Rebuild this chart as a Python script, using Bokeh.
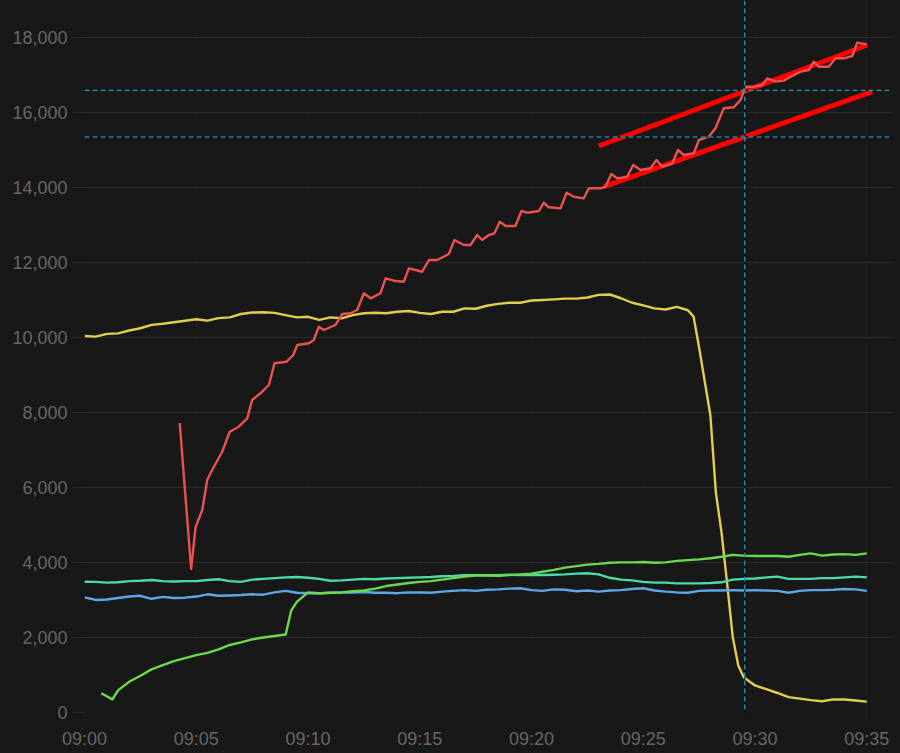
import numpy as np
import pandas as pd
from bokeh.plotting import figure
from bokeh.models import Range1d, FixedTicker, NumeralTickFormatter, DatetimeTickFormatter, Span
from bokeh.embed import file_html
from bokeh.resources import INLINE

# ---- data (minutes after 09:00) ----
time_min = [i * 0.5 for i in range(71)]  # 30 s samples 09:00 .. 09:35

yellow_t = ([i * 0.5 for i in range(55)]                       # 09:00 .. 09:27
            + [27.25, 27.5, 27.75, 28.0, 28.25, 28.5, 28.75, 29.0, 29.25, 29.5]
            + [30 + i * 0.5 for i in range(11)])               # 09:30 .. 09:35
yellow = [10034, 10016, 10090, 10105, 10180, 10240, 10330, 10360, 10400, 10440,
          10480, 10445, 10510, 10530, 10620, 10660, 10665, 10650, 10590, 10530,
          10545, 10465, 10530, 10505, 10590, 10640, 10655, 10640, 10680, 10700,
          10650, 10620, 10680, 10680, 10770, 10760, 10840, 10890, 10921, 10921,
          10980, 10993, 11010, 11030, 11030, 11060, 11130, 11140, 11040, 10920,
          10850, 10770, 10740, 10810, 10720,
          10550, 9720, 8820, 7930, 5850, 4800, 3450, 2020, 1250, 930,
          720, 620, 520, 410, 370, 330, 300, 350, 345, 320,
          290]

blue = [3070, 3000, 3010, 3050, 3090, 3110, 3030, 3080, 3050, 3060,
        3090, 3150, 3110, 3120, 3130, 3150, 3140, 3200, 3240, 3190,
        3180, 3170, 3190, 3200, 3200, 3210, 3190, 3190, 3180, 3200,
        3200, 3190, 3220, 3240, 3260, 3240, 3270, 3280, 3300, 3310,
        3260, 3240, 3280, 3270, 3230, 3250, 3220, 3250, 3260, 3290,
        3310, 3250, 3220, 3200, 3190, 3240, 3250, 3250, 3260, 3250,
        3260, 3250, 3240, 3190, 3240, 3260, 3260, 3270, 3290, 3280,
        3240]

teal = [3486, 3480, 3460, 3470, 3500, 3510, 3530, 3500, 3490, 3500,
        3500, 3530, 3550, 3500, 3480, 3540, 3560, 3580, 3600, 3610,
        3590, 3560, 3510, 3520, 3540, 3560, 3550, 3570, 3580, 3590,
        3600, 3610, 3630, 3640, 3660, 3660, 3660, 3660, 3670, 3660,
        3660, 3665, 3670, 3680, 3700, 3710, 3680, 3590, 3540, 3520,
        3480, 3460, 3460, 3440, 3440, 3440, 3450, 3470, 3540, 3560,
        3570, 3600, 3620, 3560, 3560, 3560, 3580, 3580, 3600, 3620,
        3600]

green_t = [0.75, 1.25] + [1.5 + i * 0.5 for i in range(16)] + [9.25] + [9.5 + i * 0.5 for i in range(52)]
green = [512, 350,
         590, 820, 980, 1150, 1260, 1370, 1450, 1530, 1590, 1680, 1800, 1870, 1950, 2000, 2040, 2080,
         2720,
         2950, 3200, 3180, 3190, 3200, 3230, 3250, 3300, 3370, 3410,
         3450, 3480, 3500, 3540, 3580, 3620, 3650, 3650, 3640, 3660,
         3680, 3700, 3750, 3800, 3860, 3900, 3940, 3960, 3990, 4000,
         4000, 4010, 3990, 4000, 4040, 4060, 4080, 4110, 4150, 4200,
         4180, 4170, 4170, 4170, 4150, 4200, 4240, 4180, 4210, 4220,
         4200, 4240]

red_t = [4.26, 4.77, 4.97, 5.27, 5.49, 5.71, 6.16, 6.50, 6.90, 7.28,
         7.50, 7.87, 8.25, 8.50, 9.04, 9.34, 9.52, 10.04, 10.26, 10.48,
         10.71, 11.23, 11.53, 11.90, 12.20, 12.50, 12.80, 13.24, 13.47, 13.84,
         14.29, 14.51, 14.81, 15.11, 15.41, 15.78, 16.30, 16.55, 16.97, 17.27,
         17.57, 17.79, 18.09, 18.34, 18.58, 18.84, 19.28, 19.55, 19.81, 20.33,
         20.55, 20.77, 21.30, 21.57, 21.89, 22.34, 22.56, 23.09, 23.31, 23.57,
         23.83, 24.28, 24.55, 24.88, 25.32, 25.59, 25.85, 26.30, 26.55, 26.81,
         27.26, 27.49, 27.93, 28.23, 28.60, 29.05, 29.35, 29.57, 29.95, 30.32,
         30.55, 30.92, 31.29, 31.59, 32.04, 32.41, 32.63, 32.85, 33.30, 33.60,
         33.97, 34.35, 34.57, 34.87, 35.00]
red = [7715, 3824, 4944, 5397, 6196, 6463, 6950, 7483, 7617, 7840,
       8328, 8507, 8728, 9306, 9349, 9527, 9794, 9839, 9927, 10282,
       10194, 10327, 10620, 10639, 10727, 11172, 11038, 11172, 11572, 11508,
       11481, 11838, 11793, 11747, 12059, 12059, 12219, 12592, 12459, 12459,
       12726, 12592, 12726, 12771, 13080, 12965, 12965, 13365, 13320, 13365,
       13587, 13464, 13436, 13853, 13746, 13703, 13970, 13970, 14013, 14351,
       14236, 14279, 14591, 14458, 14503, 14724, 14546, 14636, 14991, 14857,
       14903, 15257, 15345, 15569, 16102, 16129, 16324, 16678, 16678, 16723,
       16901, 16812, 16839, 16945, 17078, 17122, 17345, 17211, 17211, 17434,
       17434, 17496, 17851, 17816, 17816]

trend_upper_t = [23.01, 35.02]
trend_upper_v = [15097, 17790]
trend_lower_t = [23.24, 35.24]
trend_lower_v = [14013, 16545]

cross_levels = [16582, 15337]
cross_time = 29.54

x_tick_minutes = [0, 5, 10, 15, 20, 25, 30, 35]
y_ticks = [0, 2000, 4000, 6000, 8000, 10000, 12000, 14000, 16000, 18000]

# ---- helpers ----
BASE_MS = pd.Timestamp("2024-01-01 09:00").value / 1e6


def to_ms(minutes):
    return [BASE_MS + m * 60000.0 for m in minutes]


BG = "#181818"
GRID = "#2a2a2a"
LABEL = "#666666"

p = figure(width=900, height=753, x_axis_type="datetime",
           output_backend="svg", toolbar_location=None,
           x_range=Range1d(BASE_MS, BASE_MS + 36.15 * 60000),
           y_range=Range1d(0, 18975),
           min_border_left=84, min_border_right=8, min_border_top=0, min_border_bottom=41)
p.background_fill_color = BG
p.border_fill_color = BG
p.outline_line_color = None

p.xgrid.grid_line_color = "#1d1d1d"
p.ygrid.grid_line_color = GRID

p.xaxis.ticker = FixedTicker(ticks=to_ms(x_tick_minutes))
p.xaxis.formatter = DatetimeTickFormatter(
    seconds="%H:%M", minsec="%H:%M", minutes="%H:%M", hourmin="%H:%M", hours="%H:%M")
p.yaxis.ticker = FixedTicker(ticks=y_ticks)
p.yaxis.formatter = NumeralTickFormatter(format="0,0")

for ax in (p.xaxis[0], p.yaxis[0]):
    ax.axis_line_color = None
    ax.minor_tick_line_color = None
    ax.major_tick_in = 0
    ax.major_tick_line_color = GRID
    ax.major_label_text_color = LABEL
    ax.major_label_text_font = "Liberation Sans"
    ax.major_label_text_font_size = "18px"
p.yaxis.major_tick_out = 12
p.yaxis.major_label_standoff = 5
p.xaxis.major_tick_out = 8
p.xaxis.major_tick_line_color = "#1d1d1d"
p.xaxis.major_label_standoff = 8

# series
p.line(to_ms(yellow_t), yellow, line_color="#e3cd4c", line_width=2.4, line_join="round")
p.line(to_ms(time_min), blue, line_color="#5ea6e6", line_width=2.4, line_join="round")
p.line(to_ms(time_min), teal, line_color="#4cdba6", line_width=2.4, line_join="round")
p.line(to_ms(green_t), green, line_color="#6bd949", line_width=2.4, line_join="round")

# trend lines
p.line(to_ms(trend_upper_t), trend_upper_v, line_color="#ff0000", line_width=5)
p.line(to_ms(trend_lower_t), trend_lower_v, line_color="#ff0000", line_width=5)

p.line(to_ms(red_t), red, line_color="#ea5252", line_width=2.4, line_join="round")

# crosshair lines
for lvl in cross_levels:
    p.add_layout(Span(location=lvl, dimension="width", line_color="#000000", line_width=1, level="overlay"))
    p.add_layout(Span(location=lvl, dimension="width", line_color="#1ec4f5", line_width=1,
                      line_dash="5 3", level="overlay"))
xc = to_ms([cross_time])[0]
p.add_layout(Span(location=xc, dimension="height", line_color="#000000", line_width=1, level="overlay"))
p.add_layout(Span(location=xc, dimension="height", line_color="#1ec4f5", line_width=1,
                  line_dash="5 3", level="overlay"))

html = file_html(p, INLINE)
html = html.replace("<head>", "<head><style>html,body{background:#181818;}</style>", 1)
open("out.html", "w").write(html)
